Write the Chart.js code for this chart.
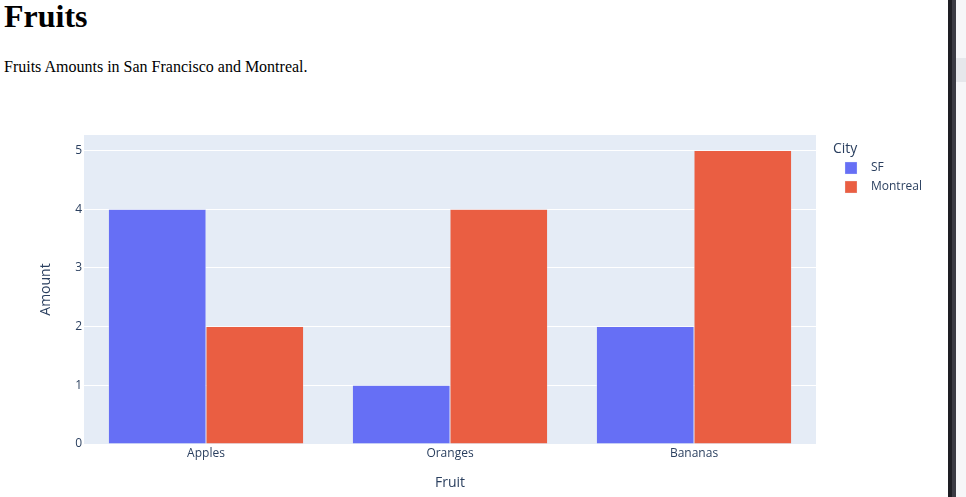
<!DOCTYPE html>
<html>
<head>
<meta charset="utf-8">
<title>Fruits</title>
<script src="https://cdn.jsdelivr.net/npm/chart.js@4/dist/chart.umd.min.js"></script>
<style>
  body { margin: 0; background: #fff; width: 966px; height: 497px; overflow: hidden; position: relative; }
  h1 { position: absolute; left: 4px; top: 0; margin: 0; font: bold 32px/32px "Liberation Serif", serif; color: #000; }
  p.sub { position: absolute; left: 4px; top: 59px; margin: 0; font: 16px/16px "Liberation Serif", serif; color: #000; }
  #wrap { position: absolute; left: 0; top: 91px; width: 946px; height: 406px; }
  .side-dark { position: absolute; left: 948px; top: 0; width: 4px; height: 497px; background: #1e1e24; }
  .side-mid { position: absolute; left: 952px; top: 0; width: 4px; height: 497px; background: #3b3b44; }
  .side-light { position: absolute; left: 956px; top: 0; width: 10px; height: 497px; background: #f6f6f8; }
  .side-box { position: absolute; left: 956px; top: 58px; width: 10px; height: 24px; background: #e6e7eb; }
</style>
</head>
<body>
<h1>Fruits</h1>
<p class="sub">Fruits Amounts in San Francisco and Montreal.</p>
<div id="wrap"><canvas id="chart"></canvas></div>
<div class="side-dark"></div>
<div class="side-mid"></div>
<div class="side-light"></div>
<div class="side-box"></div>

<script>
// data
const fruits = ['Apples', 'Oranges', 'Bananas'];
const cities = ['SF', 'Montreal'];
const sfAmounts = [4, 1, 2];
const montrealAmounts = [2, 4, 5];
const cityColors = ['#666FF5', '#EA5E42'];

const fontFamily = '"Open Sans", sans-serif';
const textColor = '#2a3f5f';

// light blue plot background like plotly
const plotBg = {
    id: 'plotBg',
    beforeDraw(chart) {
        const a = chart.chartArea;
        const ctx = chart.ctx;
        ctx.save();
        ctx.fillStyle = '#E5ECF6';
        ctx.fillRect(a.left, a.top, a.right - a.left, a.bottom - a.top);
        ctx.restore();
    }
};

// legend on the right, with a "City" title
const cityLegend = {
    id: 'cityLegend',
    afterDraw(chart) {
        const ctx = chart.ctx;
        const x = chart.chartArea.right + 17;
        ctx.save();
        ctx.fillStyle = textColor;
        ctx.textBaseline = 'middle';
        ctx.textAlign = 'left';
        ctx.font = '14px ' + fontFamily;
        ctx.fillText('City', x, 58);
        ctx.font = '12px ' + fontFamily;
        chart.data.datasets.forEach(function (ds, i) {
            const y = 77 + i * 19;
            ctx.fillStyle = ds.backgroundColor;
            ctx.fillRect(x + 12, y - 6, 12, 12);
            ctx.strokeStyle = 'rgba(229,236,246,0.6)';
            ctx.lineWidth = 0.5;
            ctx.strokeRect(x + 12, y - 6, 12, 12);
            ctx.fillStyle = textColor;
            ctx.fillText(ds.label, x + 38, y);
        });
        ctx.restore();
    }
};

new Chart(document.getElementById('chart'), {
    type: 'bar',
    data: {
        labels: fruits,
        datasets: [
            { label: cities[0], data: sfAmounts, backgroundColor: cityColors[0] },
            { label: cities[1], data: montrealAmounts, backgroundColor: cityColors[1] }
        ]
    },
    options: {
        responsive: true,
        maintainAspectRatio: false,
        animation: false,
        layout: { padding: { left: 0, top: 44, right: 130, bottom: 0 } },
        datasets: {
            bar: {
                categoryPercentage: 0.8,
                barPercentage: 1.0,
                borderWidth: 0.5,
                borderColor: '#E5ECF6'
            }
        },
        plugins: {
            legend: { display: false },
            tooltip: { enabled: false }
        },
        scales: {
            x: {
                grid: { display: false, drawTicks: false },
                border: { display: false },
                ticks: { color: textColor, font: { family: fontFamily, size: 12 }, padding: 2 },
                title: {
                    display: true, text: 'Fruit', color: textColor,
                    font: { family: fontFamily, size: 14 },
                    padding: { top: 0, bottom: 6 }
                },
                afterFit(scale) { scale.height = 53; }
            },
            y: {
                min: 0,
                max: 5.263,
                grid: { color: '#ffffff', lineWidth: 1, drawTicks: false },
                border: { display: false },
                ticks: {
                    stepSize: 1,
                    includeBounds: false,
                    color: textColor,
                    font: { family: fontFamily, size: 12 },
                    padding: 2
                },
                title: {
                    display: true, text: 'Amount', color: textColor,
                    font: { family: fontFamily, size: 14 },
                    padding: { top: 38, bottom: 0 }
                },
                afterFit(scale) { scale.width = 84; }
            }
        }
    },
    plugins: [plotBg, cityLegend]
});
</script>
</body>
</html>
